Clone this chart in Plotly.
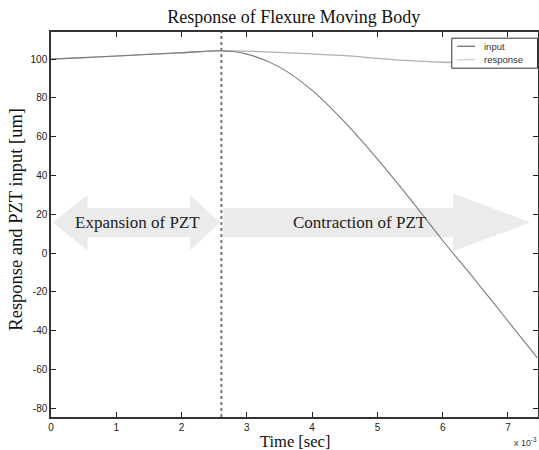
import plotly.graph_objects as go

# Time in units of 1e-3 s
time_ms = [0, 0.5, 1.0, 1.5, 2.0, 2.6, 3.0, 3.5, 4.0, 4.5, 5.0, 5.5, 6.0, 6.5, 7.0, 7.45]
input_um = [100, 100.8, 101.6, 102.5, 103.3, 104.3, 102.6, 95.9, 83.9, 67.5, 48.5, 28.0, 6.5, -14.0, -35.0, -54.0]
response_um = [100, 100.8, 101.6, 102.5, 103.3, 104.3, 104.1, 103.5, 102.7, 101.8, 100.4, 99.2, 98.4, 97.9, 97.6, 97.5]
switch_time = 2.61
x_ticks = [0, 1, 2, 3, 4, 5, 6, 7]
y_ticks = [-80, -60, -40, -20, 0, 20, 40, 60, 80, 100]

SERIF = "Liberation Serif, Times New Roman, serif"
SANS = "Liberation Sans, Arial, sans-serif"

fig = go.Figure()
fig.add_trace(go.Scatter(x=time_ms, y=response_um, mode="lines", name="response",
                         line=dict(color="#b0b0b0", width=1.3, shape="spline"), showlegend=False))
fig.add_trace(go.Scatter(x=time_ms, y=input_um, mode="lines", name="input",
                         line=dict(color="#7a7a7a", width=1.1, shape="spline"), showlegend=False))

shapes = []
# big light arrows
shapes.append(dict(type="path", xref="x", yref="y", layer="below",
                   path="M 0.02 15.8 L 0.56 30 L 0.56 23.2 L 2.13 23.2 L 2.13 30 L 2.59 15.8 "
                        "L 2.13 1.5 L 2.13 8.2 L 0.56 8.2 L 0.56 1.5 Z",
                   fillcolor="#ebebeb", line=dict(width=0)))
shapes.append(dict(type="path", xref="x", yref="y", layer="below",
                   path="M 2.64 23.2 L 6.16 23.2 L 6.16 30.9 L 7.34 15.8 L 6.16 1.0 L 6.16 8.2 L 2.64 8.2 Z",
                   fillcolor="#ebebeb", line=dict(width=0)))
# dotted vertical line
shapes.append(dict(type="line", xref="x", yref="paper", x0=switch_time, x1=switch_time, y0=0, y1=1,
                   line=dict(color="#777777", width=2, dash="dot")))
# manual legend box
shapes.append(dict(type="rect", xref="paper", yref="paper", x0=0.823, x1=0.999, y0=0.906, y1=0.984,
                   fillcolor="white", line=dict(color="#333333", width=1)))
shapes.append(dict(type="line", xref="paper", yref="paper", x0=0.834, x1=0.871, y0=0.963, y1=0.963,
                   line=dict(color="#666666", width=1.2)))
shapes.append(dict(type="line", xref="paper", yref="paper", x0=0.834, x1=0.871, y0=0.928, y1=0.928,
                   line=dict(color="#cccccc", width=1.2)))

annotations = [
    dict(x=1.32, y=15.8, xref="x", yref="y", text="Expansion of PZT", showarrow=False,
         font=dict(family=SERIF, size=17, color="#222222")),
    dict(x=4.74, y=15.8, xref="x", yref="y", text="Contraction of PZT", showarrow=False,
         font=dict(family=SERIF, size=17, color="#222222")),
    dict(x=0.885, y=0.963, xref="paper", yref="paper", text="input", showarrow=False,
         xanchor="left", yanchor="middle", font=dict(family=SANS, size=9.5, color="#333333")),
    dict(x=0.885, y=0.928, xref="paper", yref="paper", text="response", showarrow=False,
         xanchor="left", yanchor="middle", font=dict(family=SANS, size=9.5, color="#333333")),
    dict(x=1.002, y=-0.064, xref="paper", yref="paper", text="x 10<sup>-3</sup>", showarrow=False,
         xanchor="right", yanchor="middle", font=dict(family=SANS, size=9, color="#333333")),
    dict(x=0.500, y=-0.064, xref="paper", yref="paper", text="Time [sec]", showarrow=False,
         xanchor="center", yanchor="middle", font=dict(family=SERIF, size=16.5, color="#111111")),
    dict(x=-0.072, y=0.515, xref="paper", yref="paper", text="Response and PZT input [um]", showarrow=False,
         textangle=-90, xanchor="center", yanchor="middle", font=dict(family=SERIF, size=18.5, color="#111111")),
]

fig.update_layout(
    width=539, height=450,
    margin=dict(l=51, r=1, t=32, b=33, autoexpand=False),
    paper_bgcolor="white", plot_bgcolor="white",
    title=dict(text="Response of Flexure Moving Body", x=0.545, xanchor="center",
               y=0.962, yanchor="middle", font=dict(family=SERIF, size=18, color="#111111")),
    shapes=shapes, annotations=annotations,
    showlegend=False,
)
fig.update_xaxes(range=[0, 7.46], tickvals=x_ticks, ticktext=[str(v) for v in x_ticks],
                 ticks="inside", ticklen=5, tickcolor="#222222", mirror="ticks", automargin=False,
                 showline=True, linecolor="#333333", linewidth=1.5, showgrid=False, zeroline=False,
                 tickfont=dict(family=SANS, size=10, color="#222222"))
fig.update_yaxes(range=[-84.5, 114], tickvals=y_ticks, ticktext=[str(v) for v in y_ticks],
                 ticks="inside", ticklen=5, tickcolor="#222222", mirror="ticks", automargin=False,
                 showline=True, linecolor="#333333", linewidth=1.5, showgrid=False, zeroline=False,
                 tickfont=dict(family=SANS, size=10, color="#222222"))

fig.write_html("out.html", config={"displayModeBar": False},
               post_script="document.body.style.margin='0';document.body.style.overflow='hidden';")
